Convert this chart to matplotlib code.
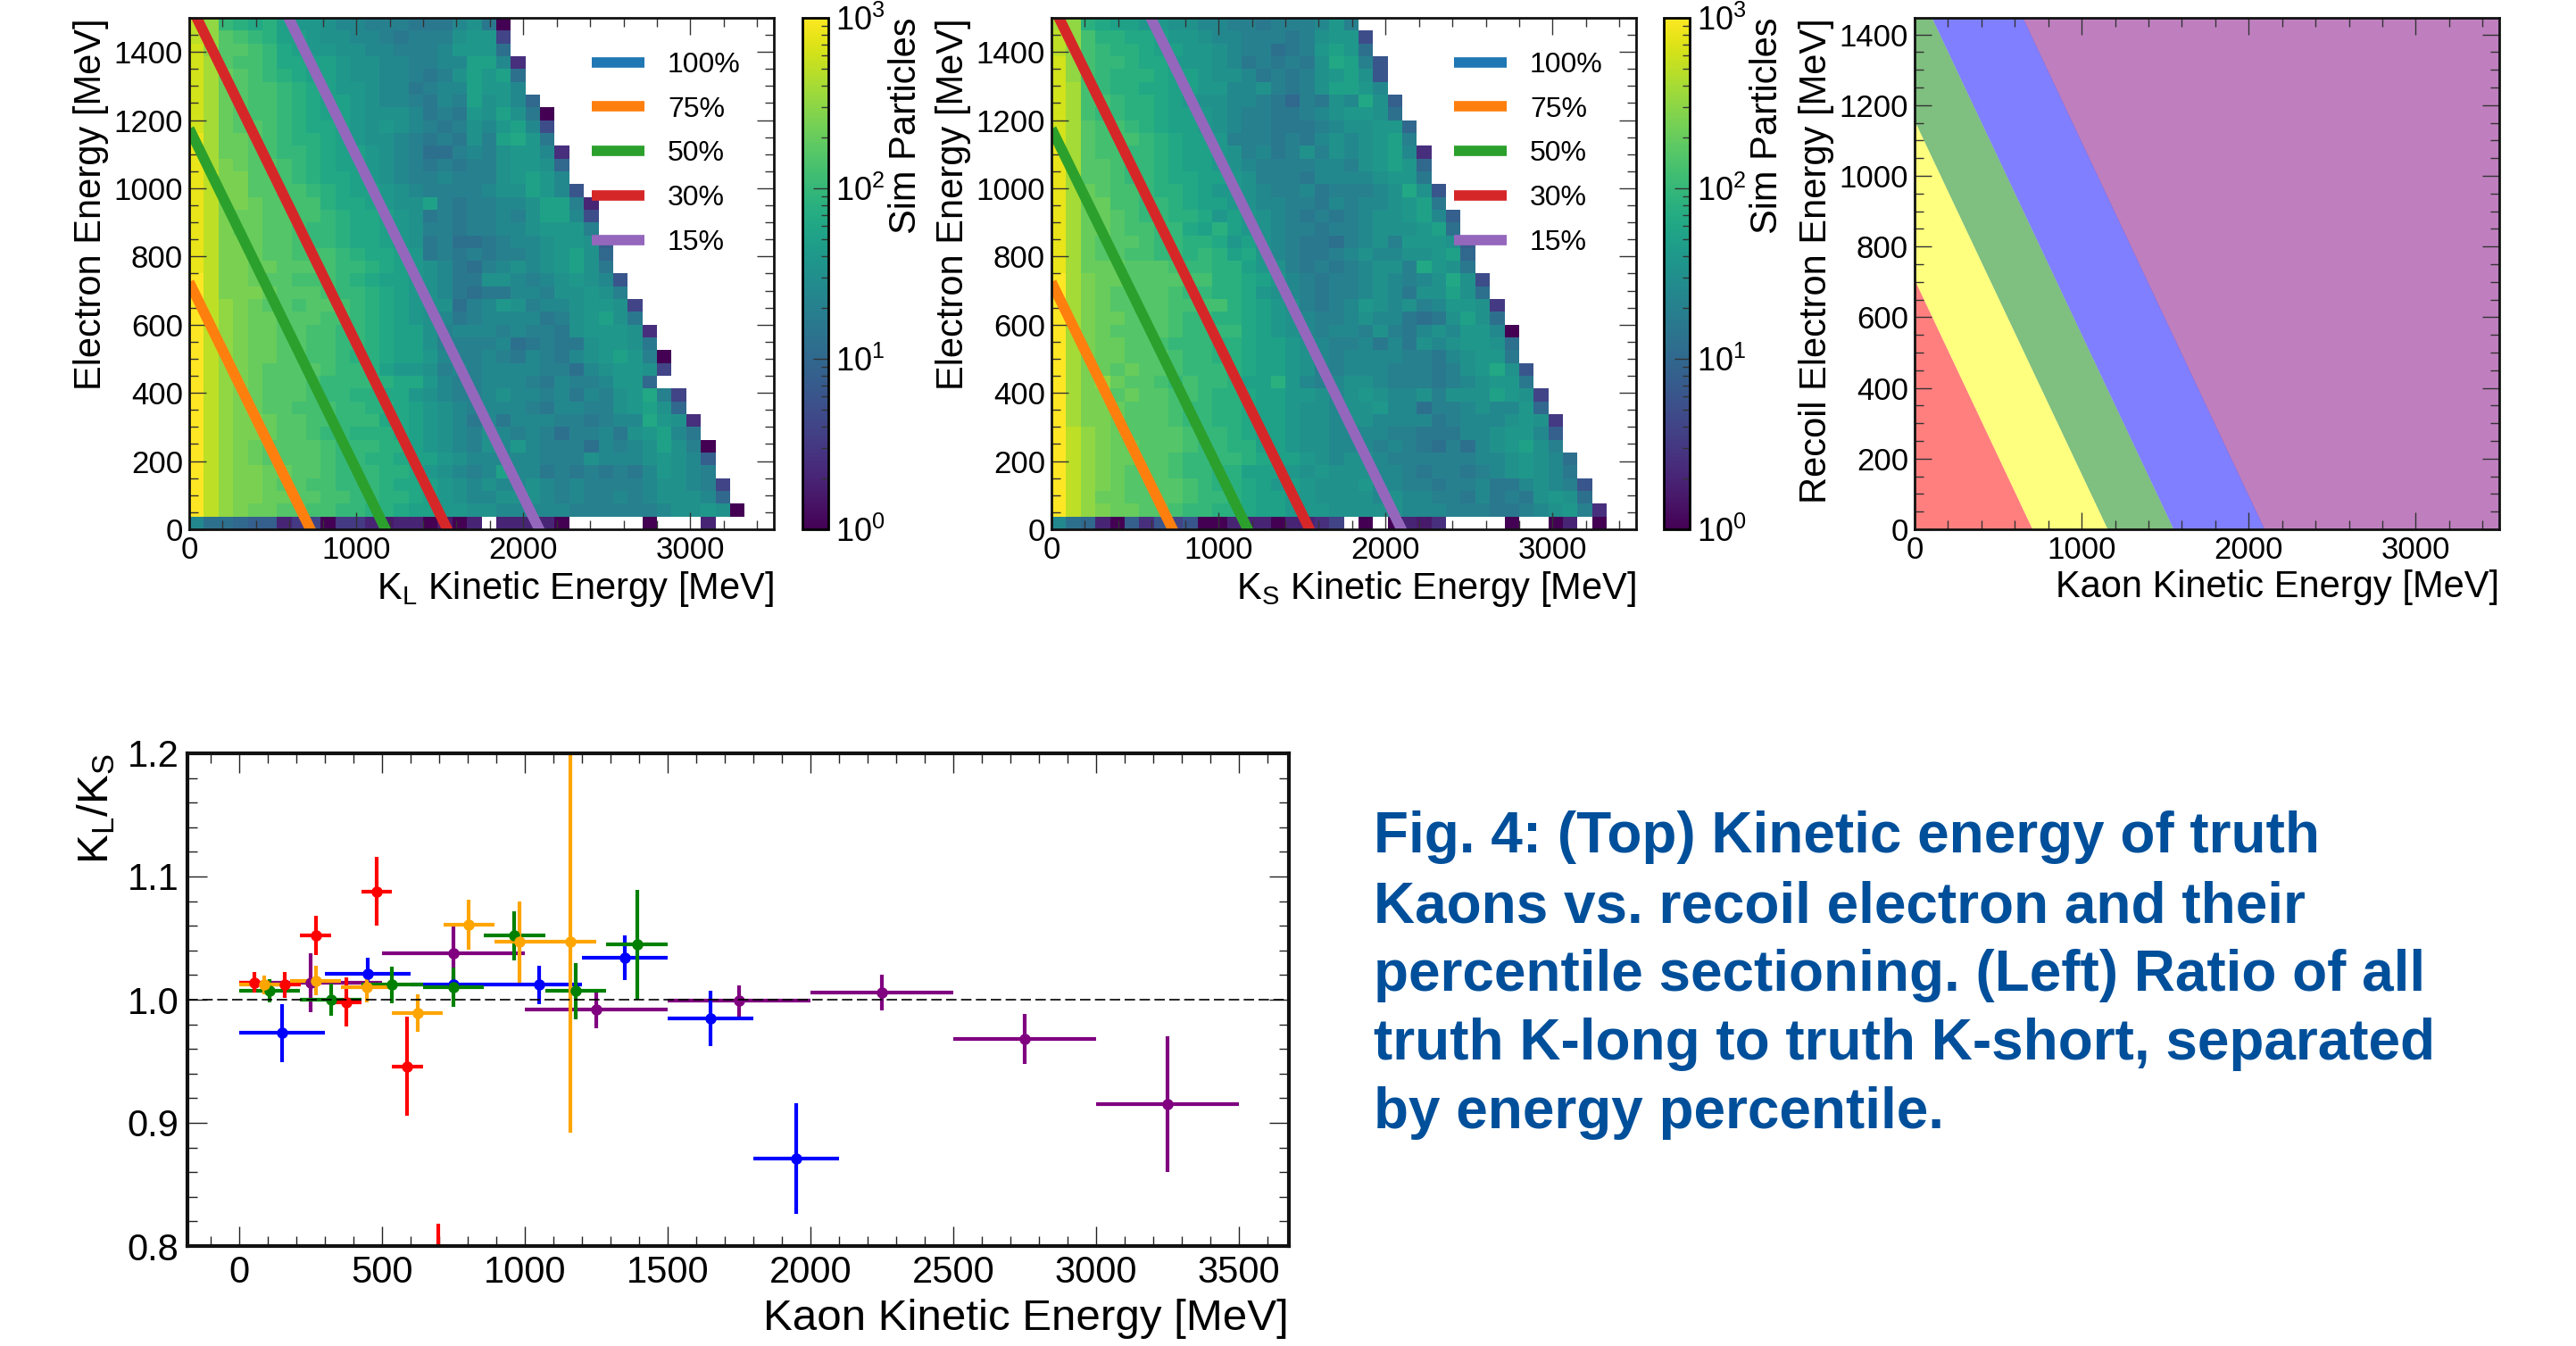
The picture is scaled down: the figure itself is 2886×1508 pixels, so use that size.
import matplotlib
matplotlib.use("Agg")
import matplotlib.pyplot as plt
import numpy as np
from matplotlib.colors import LogNorm
from matplotlib.ticker import MultipleLocator, LogLocator, NullFormatter

plt.rcParams['font.family'] = ['Liberation Sans', 'DejaVu Sans']
plt.rcParams['mathtext.fontset'] = 'custom'
plt.rcParams['mathtext.rm'] = 'Liberation Sans'
plt.rcParams['mathtext.it'] = 'Liberation Sans'
plt.rcParams['mathtext.default'] = 'regular'

FIG_W, FIG_H = 2886, 1508

# log10(sim particles) x 10, base 36 per cell, '.' = empty. top row first, 40 kaon bins
kl_cells = [
    "rpkjijhggfeedddcccefc0",
    "rpmlkjhhgffeedcdddfgg6",
    "spmmlkihggffeedddegg" + "gb",
    "sqmllkiihhgffeeddeeh" + "he4",
    "sqnmlkjihhgffeedcdfh" + "ghb",
    "sqnmllkjihggfeecdeeh" + "gge",
    "sqnmllkjihhgfeedcedh" + "fgea",
    "sqnmllkjihhgfffecdcg" + "fhfc0",
    "sqnmmlkjiihgfgfedcdf" + "eghe7",
    "tqnnmlkjjihgffedcdcf" + "dhigc",
    "tqnnmlkkjihhgfedbbde" + "dfgge4",
    "tqonmmlkjihhgfedcdcd" + "dfggfa",
    "troommlkjiihgfeddedd" + "dfghge",
    "troommllkjihhgfedddd" + "effhge8",
    "troonmmlljiihgffhdcd" + "deefhhd3",
    "tronnmmllkjiihgfcdcd" + "dedfhhe7",
    "tronnmmlkkjiihgfddcd" + "deefgggd",
    "troonmmlkkjiihgfcdbb" + "cdeefggf9",
    "troonmmlllkjiihgcdcd" + "cddefghfa",
    "troonnmmmlkkjihgfecb" + "defefghfc",
    "uroonmmlllkjihhgfecc" + "ffedefgfe8",
    "urooonmmmlkkjihgfecb" + "cceedffgfd",
    "urponmmlmmlkjihgffbd" + "egfdeefggf6",
    "urponnmmmllkjihgfecd" + "eeeecdfghfc",
    "urponnmmllkkjihhfdee" + "ededdcfgggf4",
    "urponnmmllkkjihhfddd" + "debcdccfggfc",
    "urponnmmllkjjihhgedd" + "edcedcefghgd0",
    "urponmmmmlkkjhggfded" + "eeeeddbefggf6",
    "urponmmmlkkkkjiigedd" + "eeedcedde" + "gga",
    "urponmmmlkkjjiigfedd" + "efeedecedfgid6",
    "urponmmlllkkjjihgfed" + "eeedceeddfghfa",
    "urpoonmmllkkkiihgfec" + "eceeeddcdeeigf4",
    "urpoonmmlkkjjjihgfed" + "fededbddecfghec",
    "urponmmmmlkkkjjhgfed" + "fegedddbedefhfd0",
    "urponmmmmlkkjjihhgfe" + "eeeedddfeeefgfe9",
    "urpoonnmmlkkkjjigfed" + "eheecdcdcdcegfed",
    "urpoonmmllkkkjiihgfe" + "feefededddd" + "effed6",
    "urpoonnmmllkkjjihgfe" + "efffededdedefffea",
    "urponnmmllkkjjihhggf" + "feeeeedddddd" + "effgf0",
    "ebba9935605532330203.33330.....0...3",
]
ks_cells = [
    "qpjihhggffeeddcdddeg" + "d",
    "rpljjiihggfeedddcdfg" + "g7",
    "rplkjjihhggfeddbcdgh" + "gb",
    "splkkjiigggfecdcdcfi" + "hd8",
    "splkjjjihhgffecdcdfg" + "hf8",
    "sqlkjjiihhggeefdcdfh" + "hge",
    "sqllkjjihgffeedcadcf" + "eif9",
    "sqlkkjjihhgfeddccdef" + "ggfb",
    "sqmllkjihhgfeddcccde" + "ffgga",
    "sqmlllkjihhgdddcdcef" + "efghd",
    "tqmllkkjihhgfdecdfdf" + "efghe4",
    "tqmmlkkjihhgfeddddee" + "dfghga",
    "tqmmlkkjiihhgfdddcee" + "eefggc",
    "tqnmllkjjihggfeddecd" + "ddefif8",
    "tqnnllkkjihhgfeeddce" + "deefghc",
    "tqnnmlkkjjighgfedcdc" + "deffghe9",
    "tqnnmllkkihjhgfeddcd" + "defffghb",
    "tqnmmmlkkjjighfedccb" + "defdgggf9",
    "tqnmmllkkjkjhigedccd" + "efeeffgha",
    "tqnnnmmmlkkjjhgfdcdc" + "deffdigfc",
    "uqonnmmmmlljjihgedcd" + "defedefif7",
    "uqonmmmmlkkjjigfedcd" + "defecffhfb",
    "uqonmmmmlllljihgfdcd" + "egfefdeggf5",
    "uqonnmmmlkkjjihgfedd" + "efeecbcfhfb",
    "uqonmmmmlkkkkihgfede" + "edfdcefegge0",
    "uqonnmmlkkkjjihhgfed" + "dececfefggfb",
    "uqonnmmmlkkjjihhgfed" + "eeeeddcefggc",
    "uqonmnmmlkkkjihhgfdd" + "eeedddcdfgif8",
    "uqopnmmlklkkjhhjgede" + "ffedddcdefggc",
    "uqoomnmmllkjjihhggfe" + "fgfeefdfffhgf6",
    "uqoonmmmlkkjjihhgffe" + "ffgeebddefeega",
    "uqoonmmmlkkjjihhgffe" + "ffeeeecdeeefgf5",
    "urponmmmmlkkjihhgffe" + "eeeddccceefgge9",
    "urponnmmmlkkjjhhgffe" + "eededcbdbefghfd",
    "urponnmmlkkkkjihhgfe" + "ffeddddddeefgfeb",
    "urponmmmlkkjjhhhgfgf" + "ffeedcddcdefgfec",
    "urponmmmmlkjjihghgff" + "fgeeddcddeccefed8",
    "urpnnmmmmlkkjihhggff" + "ffefeeddcecdcfgfb",
    "urponnmmlkkjjihhgggf" + "ffffeeedddccdefgd4",
    "eba30948680033303346.0.0324....0..03.0",
]

energy_percent = ["100%", "75%", "50%", "30%", "15%"]
line_colors = ["tab:blue", "tab:orange", "tab:green", "tab:red", "tab:purple"]
total_energy = [np.nan, 725, 1175, 1545, 2095]

band_edges = [0, 705, 1155, 1550, 2095, 6000]
band_colors = ["red", "yellow", "green", "blue", "purple"]

# ratio points per percentile band
red_x = [54, 161, 268, 375, 482, 589, 696]
red_xerr = [54, 54, 54, 54, 54, 54, 54]
red_y = [1.014, 1.012, 1.052, 0.998, 1.088, 0.946, 0.760]
red_yerr = [0.0085, 0.0105, 0.016, 0.020, 0.028, 0.040, 0.058]

orange_x = [89, 268, 446, 625, 804, 982, 1161]
orange_xerr = [89, 89, 89, 89, 89, 89, 89]
orange_y = [1.012, 1.0155, 1.010, 0.989, 1.061, 1.047, 1.047]
orange_yerr = [0.0075, 0.012, 0.012, 0.015, 0.0205, 0.033, 0.155]

green_x = [107, 321, 536, 750, 964, 1179, 1393]
green_xerr = [107, 107, 107, 107, 107, 107, 107]
green_y = [1.007, 1.000, 1.012, 1.010, 1.052, 1.007, 1.0446]
green_yerr = [0.0095, 0.013, 0.015, 0.016, 0.020, 0.023, 0.0446]

blue_x = [150, 450, 750, 1050, 1350, 1650, 1950]
blue_xerr = [150, 150, 150, 150, 150, 150, 150]
blue_y = [0.973, 1.0207, 1.012, 1.012, 1.034, 0.985, 0.871]
blue_yerr = [0.0237, 0.0135, 0.007, 0.0155, 0.018, 0.0225, 0.045]

purple_x = [250, 750, 1250, 1750, 2250, 2750, 3250]
purple_xerr = [250, 250, 250, 250, 250, 250, 250]
purple_y = [1.014, 1.0375, 0.992, 0.999, 1.0057, 0.968, 0.915]
purple_yerr = [0.024, 0.0217, 0.015, 0.0125, 0.0143, 0.0204, 0.055]

caption_lines = [
    "Fig. 4: (Top) Kinetic energy of truth",
    "Kaons vs. recoil electron and their",
    "percentile sectioning. (Left) Ratio of all",
    "truth K-long to truth K-short, separated",
    "by energy percentile.",
]


def px_axes(fig, left, top, right, bottom):
    return fig.add_axes([left / FIG_W, 1 - bottom / FIG_H, (right - left) / FIG_W, (bottom - top) / FIG_H])


def cells_to_counts(rows):
    grid = np.full((40, 40), np.nan)
    for r, row in enumerate(rows):
        for c, ch in enumerate(row):
            if ch != '.':
                grid[39 - r, c] = 10 ** (int(ch, 36) / 10)
    return grid


def style_ticks(ax, xmajor, xminor, ymajor, yminor, size, major_len, minor_len, width, spine, color, pad=5):
    ax.xaxis.set_major_locator(MultipleLocator(xmajor))
    ax.xaxis.set_minor_locator(MultipleLocator(xminor))
    ax.yaxis.set_major_locator(MultipleLocator(ymajor))
    ax.yaxis.set_minor_locator(MultipleLocator(yminor))
    ax.tick_params(which='both', direction='in', top=True, right=True, width=width, color=color)
    ax.tick_params(which='major', length=major_len, labelsize=size, pad=pad)
    ax.tick_params(which='minor', length=minor_len)
    for s in ax.spines.values():
        s.set_linewidth(spine)
        s.set_color('#111111')


def heat_panel(fig, left, cb_left, cells, xlabel):
    ax = px_axes(fig, left, 20, left + 655, 593)
    x_edges = np.linspace(0, 3500, 41)
    y_edges = np.linspace(0, 1500, 41)
    mesh = ax.pcolormesh(x_edges, y_edges, cells_to_counts(cells), cmap='viridis', norm=LogNorm(1, 1000))
    xs = np.array([0, 3500])
    for name, col, total in zip(energy_percent, line_colors, total_energy):
        ax.plot(xs, total - xs, color=col, lw=8.4, label=name, solid_capstyle='butt')
    ax.set_xlim(0, 3500)
    ax.set_ylim(0, 1500)
    style_ticks(ax, 1000, 200, 200, 50, 25, 13.5, 7, 1.0, 2.0, '#333333')
    ax.set_xlabel(xlabel, fontsize=30, loc='right', labelpad=4)
    ax.set_ylabel("Electron Energy [MeV]", fontsize=30, loc='top', labelpad=4)
    ax.legend(loc='upper left', bbox_to_anchor=(0.688, 0.934), frameon=False, fontsize=23, borderpad=0,
              borderaxespad=0, handlelength=1.87, handletextpad=0.8, labelspacing=0.62)

    cax = px_axes(fig, cb_left, 20, cb_left + 29, 593)
    cbar = fig.colorbar(mesh, cax=cax)
    cax.yaxis.set_major_locator(LogLocator(10, numticks=5))
    cax.yaxis.set_minor_locator(LogLocator(10, subs=np.arange(2, 10), numticks=5))
    cax.yaxis.set_minor_formatter(NullFormatter())
    cax.tick_params(which='both', direction='in', color='#333333', width=1.0)
    cax.tick_params(which='major', length=12, labelsize=26, pad=6)
    cax.tick_params(which='minor', length=6)
    cbar.outline.set_linewidth(2.0)
    cbar.set_label("Sim Particles", fontsize=30, loc='top', labelpad=2)
    return ax


fig = plt.figure(figsize=(FIG_W / 100, FIG_H / 100), dpi=100, facecolor='white')

heat_panel(fig, 212, 899, kl_cells, "K$_{L}$ Kinetic Energy [MeV]")
heat_panel(fig, 1178, 1864, ks_cells, "K$_{S}$ Kinetic Energy [MeV]")

# percentile bands
ax3 = px_axes(fig, 2145, 20, 2800, 593)
for lo, hi, col in zip(band_edges[:-1], band_edges[1:], band_colors):
    grid_x = np.linspace(0, 3500, 701)
    ax3.fill_between(grid_x, np.clip(lo - grid_x, 0, None), np.clip(hi - grid_x, 0, None), color=col, alpha=0.5, lw=0)
ax3.set_xlim(0, 3500)
ax3.set_ylim(0, 1447)
style_ticks(ax3, 1000, 200, 200, 50, 25, 13.5, 7, 1.0, 2.0, '#333333')
ax3.set_xlabel("Kaon Kinetic Energy [MeV]", fontsize=30, loc='right', labelpad=4)
ax3.set_ylabel("Recoil Electron Energy [MeV]", fontsize=30, loc='top', labelpad=4)

# ratio panel
ax4 = px_axes(fig, 210, 844, 1444, 1396)
series = [
    (purple_x, purple_xerr, purple_y, purple_yerr, 'purple'),
    (blue_x, blue_xerr, blue_y, blue_yerr, 'blue'),
    (green_x, green_xerr, green_y, green_yerr, 'green'),
    (red_x, red_xerr, red_y, red_yerr, 'red'),
    (orange_x, orange_xerr, orange_y, orange_yerr, 'orange'),
]
for x, xerr, y, yerr, col in series:
    ax4.errorbar(x, y, xerr=xerr, yerr=yerr, fmt='o', color=col, ms=8, elinewidth=3.0, capsize=0)
ax4.axhline(1.0, color='black', ls=(0, (7, 3)), lw=1.2, zorder=5)
ax4.set_xlim(-181, 3675)
ax4.set_ylim(0.8, 1.2)
style_ticks(ax4, 500, 100, 0.1, 0.02, 30, 16, 8, 1.0, 3.0, '#222222', pad=7)
ax4.set_xlabel("Kaon Kinetic Energy [MeV]", fontsize=35.5, loc='right', labelpad=7)
ax4.set_ylabel("K$_{L}$/K$_{S}$", fontsize=35.5, loc='top', labelpad=8)

line_y = [938, 1016, 1093, 1170, 1247]
for txt, y in zip(caption_lines, line_y):
    fig.text(1539 / FIG_W, 1 - y / FIG_H, txt, fontsize=46, fontweight='bold', color='#004F9A', ha='left', va='center')

fig.savefig("out.png", dpi=100)
